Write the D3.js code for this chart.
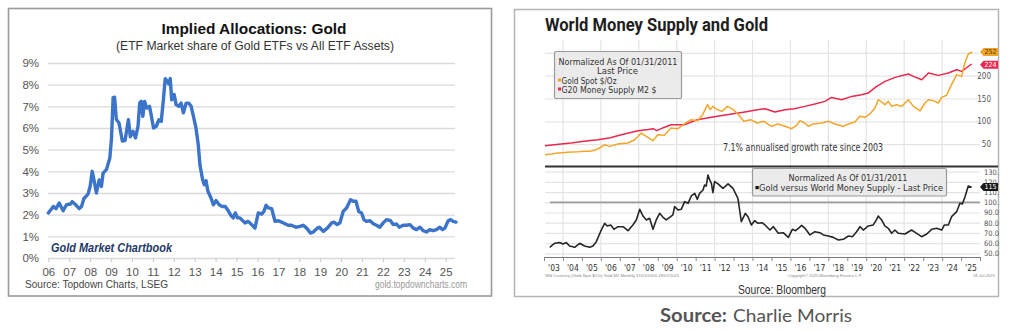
<!DOCTYPE html>
<html><head><meta charset="utf-8">
<script src="https://cdn.jsdelivr.net/npm/d3@7"></script>
<style>body{margin:0;background:#fff}svg{display:block}</style>
</head><body>
<svg id="c" width="1009" height="331"></svg>
<script>
// ---------- DATA ----------
// Left chart: Gold ETF share of all ETF assets (%), [year, value]
const allocShare = [
[2006.0,2.08],[2006.24,2.38],[2006.37,2.28],[2006.52,2.54],[2006.71,2.18],[2006.87,2.46],[2007.06,2.49],[2007.14,2.6],[2007.27,2.49],[2007.48,2.28],[2007.59,2.38],[2007.7,2.74],[2007.9,2.95],[2008.0,3.3],[2008.1,4.0],[2008.19,3.57],[2008.3,3.0],[2008.43,3.6],[2008.54,3.3],[2008.62,3.92],[2008.78,4.08],[2008.94,4.6],[2009.02,5.5],[2009.1,7.4],[2009.17,7.42],[2009.25,6.4],[2009.38,6.23],[2009.54,5.4],[2009.67,5.42],[2009.83,6.38],[2009.92,5.6],[2010.05,5.85],[2010.17,5.54],[2010.29,6.08],[2010.37,7.15],[2010.44,7.23],[2010.52,6.54],[2010.6,7.23],[2010.71,6.92],[2010.84,7.0],[2010.92,6.6],[2011.03,6.0],[2011.16,6.08],[2011.29,6.38],[2011.4,6.3],[2011.51,7.38],[2011.59,8.28],[2011.68,8.18],[2011.76,8.03],[2011.83,8.28],[2011.9,7.3],[2012.02,7.54],[2012.11,7.08],[2012.24,7.0],[2012.35,7.15],[2012.46,6.7],[2012.59,7.15],[2012.71,7.15],[2012.83,7.0],[2012.94,6.54],[2013.06,6.0],[2013.17,5.23],[2013.25,4.3],[2013.38,3.6],[2013.46,3.38],[2013.54,3.57],[2013.63,3.08],[2013.78,2.77],[2013.89,2.46],[2014.02,2.65],[2014.17,2.46],[2014.3,2.38],[2014.46,2.38],[2014.57,2.23],[2014.73,1.97],[2014.84,1.85],[2014.94,2.08],[2015.05,1.85],
[2015.16,1.85],[2015.4,1.62],[2015.56,1.69],[2015.72,1.54],[2015.88,1.38],[2016.04,2.08],[2016.2,2.03],[2016.31,2.15],[2016.41,2.43],[2016.52,2.31],[2016.68,2.28],[2016.84,1.69],[2017.0,1.72],[2017.24,1.62],[2017.47,1.51],[2017.63,1.51],[2017.84,1.42],[2018.03,1.46],[2018.19,1.51],[2018.35,1.38],[2018.54,1.15],[2018.67,1.2],[2018.86,1.38],[2018.96,1.42],[2019.15,1.23],[2019.34,1.38],[2019.55,1.62],[2019.67,1.65],[2019.81,1.54],[2019.94,1.62],[2020.1,2.15],[2020.26,2.31],[2020.45,2.69],[2020.58,2.62],[2020.71,2.62],[2020.84,2.15],[2020.98,2.08],[2021.09,1.77],[2021.21,1.69],[2021.38,1.72],[2021.54,1.58],[2021.69,1.51],[2021.85,1.42],[2022.01,1.62],[2022.17,1.77],[2022.36,1.72],[2022.49,1.54],[2022.65,1.57],[2022.78,1.42],[2022.97,1.51],[2023.13,1.51],[2023.29,1.54],[2023.45,1.38],[2023.61,1.31],[2023.77,1.42],[2023.92,1.26],[2024.08,1.2],[2024.24,1.31],[2024.4,1.26],[2024.56,1.31],[2024.72,1.42],[2024.85,1.31],[2024.96,1.38],[2025.12,1.72],[2025.23,1.77],[2025.36,1.69],[2025.49,1.66]
];
const allocYTicks = [0,1,2,3,4,5,6,7,8,9];
const allocXTicks = [2006,2007,2008,2009,2010,2011,2012,2013,2014,2015,2016,2017,2018,2019,2020,2021,2022,2023,2024,2025];
const allocXLabels = ["06","07","08","09","10","11","12","13","14","15","16","17","18","19","20","21","22","23","24","25"];

// Right chart, upper panel: normalized (01/31/2011 = 100)
const goldSpot = [
[2003.05,26.8],[2003.4,28.5],[2003.74,30.5],[2004.1,31.5],[2004.44,32.7],[2004.8,33],[2005.14,34.1],[2005.4,34.5],[2005.67,36.3],[2005.95,42],[2006.2,48.7],[2006.45,45],[2006.9,50.2],[2007.43,52.4],[2007.78,59.6],[2008.13,74.3],[2008.48,64.8],[2008.75,57.4],[2009.0,70.6],[2009.35,69.2],[2009.7,85.3],[2010.06,83.8],[2010.4,94.1],[2010.76,103.5],[2011.1,101.4],[2011.37,114.5],[2011.63,136.4],[2011.77,125.5],[2011.9,132.7],[2012.14,125.5],[2012.4,121.9],[2012.67,132.7],[2013.0,125.5],[2013.28,113.1],[2013.54,100],[2013.9,103.5],[2014.25,96.3],[2014.6,100],[2015.0,89],[2015.35,94.1],[2015.71,89],[2016.06,83.8],[2016.33,91.2],[2016.5,101.4],[2016.76,96.3],[2016.94,89],[2017.2,94.1],[2017.64,96.3],[2018.0,100],[2018.35,94.1],[2018.79,89],[2019.05,94.1],[2019.4,98.5],[2019.66,111],[2019.93,108.8],[2020.19,116.1],[2020.46,129.2],[2020.63,147.4],[2020.81,142.3],[2020.99,136.4],[2021.16,143.7],[2021.34,132.7],[2021.6,136.4],[2021.87,132.7],[2022.22,147.4],[2022.49,132.7],[2022.84,123.1],[2023.1,140.1],[2023.28,147.4],[2023.54,145.2],[2023.8,140.1],[2023.98,152.5],[2024.24,157],[2024.5,180.4],[2024.77,202.3],[2025.03,198.5],[2025.2,227.9],[2025.38,247.6],[2025.58,252]
];
const g20M2 = [
[2003.05,46.5],[2003.3,47.4],[2003.9,50],[2004.44,52.4],[2005.1,56],[2005.85,59.6],[2006.5,64],[2007.08,70.6],[2007.96,79.4],[2008.5,82],[2008.75,83.8],[2008.95,79.4],[2009.3,86],[2009.7,92.5],[2010.4,92.5],[2010.8,99],[2011.1,103.5],[2011.9,109.4],[2012.9,116],[2013.6,120.4],[2014.1,124],[2014.66,127.6],[2015.18,120.4],[2015.71,125.5],[2016.2,127.6],[2016.76,132.7],[2017.29,137.8],[2017.82,143.7],[2018.17,152.4],[2018.7,147.3],[2019.23,154.6],[2019.75,158.3],[2020.1,161.9],[2020.55,176.5],[2020.99,187.5],[2021.52,196.3],[2022.22,203.6],[2022.49,198.5],[2022.93,191.2],[2023.28,205.8],[2023.8,200.7],[2024.33,205.8],[2024.77,213.1],[2025.03,209.5],[2025.56,225.6]
];
const upperTicks = [50,100,150,200,250];
const upperLast = {gold:252, m2:224};

// Right chart, lower panel: gold versus world money supply (normalized)
const goldVsM2 = [
[2003.3,55.9],[2003.39,57.2],[2003.56,59.8],[2003.83,60.5],[2004.0,59.2],[2004.18,60.5],[2004.35,57.2],[2004.62,55.9],[2004.88,59.8],[2005.14,57.2],[2005.41,55.9],[2005.58,57.2],[2005.76,61.4],[2006.02,72.8],[2006.2,79.4],[2006.34,76.8],[2006.52,77.8],[2006.69,73.5],[2006.9,76.1],[2007.17,76.1],[2007.43,72.2],[2007.69,77.8],[2007.87,82.7],[2008.05,93.1],[2008.22,86.6],[2008.4,82.7],[2008.57,84.3],[2008.75,73.5],[2008.92,82.7],[2009.1,89.2],[2009.28,85.3],[2009.45,82.7],[2009.63,85.3],[2009.8,87.6],[2009.89,95.8],[2010.07,92.5],[2010.24,93.1],[2010.42,100.6],[2010.6,99],[2010.77,106.2],[2010.95,108.8],[2011.09,102.9],[2011.21,108.8],[2011.39,112.1],[2011.47,117],[2011.56,116],[2011.65,126.8],[2011.74,121.9],[2011.83,118.6],[2011.91,109.5],[2012.0,120.3],[2012.18,118],[2012.44,113.7],[2012.71,118],[2012.97,113.7],[2013.23,103.9],[2013.41,81],[2013.62,89.2],[2013.76,85.9],[2013.94,77.8],[2014.11,82],[2014.29,79.4],[2014.5,80],
[2014.66,77.8],[2014.92,72.8],[2015.1,76.1],[2015.36,69.6],[2015.62,70.2],[2015.89,65.6],[2016.1,73.5],[2016.27,72.2],[2016.42,74.5],[2016.59,77.4],[2016.77,74.5],[2017.03,68],[2017.29,71.2],[2017.56,70.2],[2017.73,68],[2018.0,67],[2018.26,65.6],[2018.53,63],[2018.79,63.7],[2019.06,67],[2019.27,66.3],[2019.49,71.2],[2019.67,76.1],[2019.84,72.8],[2020.11,76.8],[2020.37,77.8],[2020.55,83.3],[2020.63,86.6],[2020.81,82.7],[2020.98,76.8],[2021.16,74.5],[2021.34,69.6],[2021.51,72.8],[2021.69,69.6],[2022.04,68.9],[2022.39,72.8],[2022.66,69.6],[2022.92,66.3],[2023.19,68.9],[2023.45,73.5],[2023.71,74.5],[2023.98,72.8],[2024.12,77.8],[2024.33,77.8],[2024.5,85.9],[2024.77,90.8],[2024.94,99],[2025.07,98.3],[2025.21,105.5],[2025.38,116],[2025.56,114.7]
];
const lowerTicks = [50,60,70,80,90,100,110,120,130];
const lowerLast = 115;
const rightYears = d3.range(2003, 2026);

// ---------- DRAW ----------
const svg = d3.select("#c");
const LS = "'Liberation Sans', Arial, sans-serif";
const CND = "'DejaVu Sans Condensed','Liberation Sans Narrow','Liberation Sans',sans-serif";

// ===== LEFT PANEL =====
svg.append("rect").attr("x",8.5).attr("y",8.5).attr("width",483).attr("height",287.5)
  .attr("fill","#fff").attr("stroke","#9a9a9a").attr("stroke-width",1.6);

svg.append("text").attr("x",254).attr("y",34).attr("text-anchor","middle")
  .attr("font-family",LS).attr("font-weight","bold").attr("font-size",15.5).attr("fill","#111")
  .attr("textLength",185).attr("lengthAdjust","spacingAndGlyphs")
  .text("Implied Allocations: Gold");
svg.append("text").attr("x",255).attr("y",50).attr("text-anchor","middle")
  .attr("font-family",LS).attr("font-size",12).attr("fill","#333")
  .attr("textLength",278).attr("lengthAdjust","spacingAndGlyphs")
  .text("(ETF Market share of Gold ETFs vs All ETF Assets)");

const xL = d3.scaleLinear().domain([2006,2025]).range([48.3,445.7]);
const yL = d3.scaleLinear().domain([0,9]).range([258,63]);

const gyL = svg.append("g").attr("transform","translate(48,0)")
  .call(d3.axisLeft(yL).tickValues(allocYTicks).tickSize(-407).tickPadding(9).tickFormat(d=>d+"%"));
gyL.select(".domain").remove();
gyL.selectAll("line").attr("stroke","#dadada").attr("stroke-width",1.4);
gyL.selectAll("text").attr("font-family",LS).attr("font-size",11.5).attr("fill","#555");

const gxL = svg.append("g").attr("transform","translate(0,258)")
  .call(d3.axisBottom(xL).tickValues(allocXTicks).tickSize(4).tickPadding(6)
    .tickFormat((d,i)=>allocXLabels[i]));
gxL.select(".domain").remove();
gxL.selectAll("line").attr("stroke","#cfcfcf").attr("stroke-width",1.2);
gxL.selectAll("text").attr("font-family",LS).attr("font-size",11.5).attr("fill","#555");

svg.append("path").datum(allocShare)
  .attr("d", d3.line().x(d=>xL(d[0])).y(d=>yL(d[1])))
  .attr("fill","none").attr("stroke","#3b74c8").attr("stroke-width",3.4)
  .attr("stroke-linejoin","round").attr("stroke-linecap","round");

svg.append("text").attr("x",51).attr("y",252)
  .attr("font-family",LS).attr("font-style","italic").attr("font-weight","bold")
  .attr("font-size",12.5).attr("fill","#1f3a68")
  .attr("textLength",121).attr("lengthAdjust","spacingAndGlyphs")
  .text("Gold Market Chartbook");

svg.append("text").attr("x",25).attr("y",288)
  .attr("font-family",LS).attr("font-size",11).attr("fill","#444")
  .attr("textLength",143).attr("lengthAdjust","spacingAndGlyphs")
  .text("Source: Topdown Charts, LSEG");
svg.append("text").attr("x",467).attr("y",288).attr("text-anchor","end")
  .attr("font-family",LS).attr("font-size",10.5).attr("fill","#9a9a9a")
  .attr("textLength",92).attr("lengthAdjust","spacingAndGlyphs")
  .text("gold.topdowncharts.com");

// ===== RIGHT PANEL =====
svg.append("rect").attr("x",514.5).attr("y",9.5).attr("width",484).attr("height",287)
  .attr("fill","#fff").attr("stroke","#b5b5b5").attr("stroke-width",1.5);

svg.append("text").attr("x",545).attr("y",31)
  .attr("font-family","Roboto, 'Liberation Sans', sans-serif").attr("font-weight","bold")
  .attr("font-size",18).attr("fill","#1e1e1e")
  .attr("textLength",223).attr("lengthAdjust","spacingAndGlyphs")
  .text("World Money Supply and Gold");

const xR = d3.scaleLinear().domain([2003,2026]).range([544,980]);
const yU = d3.scaleLinear().domain([0,280]).range([166.9,39.2]);
const yLo = d3.scaleLinear().domain([50,130]).range([253.3,171.7]);

// vertical grid (every 2 years)
svg.append("g").selectAll("line").data(d3.range(2004,2026,2)).join("line")
  .attr("x1",d=>xR(d)).attr("x2",d=>xR(d)).attr("y1",40).attr("y2",257)
  .attr("stroke","#e4e4e4").attr("stroke-width",1.2);

// upper horizontal grid + labels
const gU = svg.append("g").attr("transform","translate(980,0)")
  .call(d3.axisRight(yU).tickValues(upperTicks).tickSize(-435).tickPadding(11)
    .tickFormat(d=> d===250 ? "" : d));
gU.select(".domain").remove();
gU.selectAll("line").attr("stroke","#e4e4e4").attr("stroke-width",1.2);
gU.selectAll("text").attr("text-anchor","end").attr("font-family",CND).attr("font-size",8).attr("fill","#555");

// lower horizontal grid + labels
const gLo = svg.append("g").attr("transform","translate(980,0)")
  .call(d3.axisRight(yLo).tickValues(lowerTicks).tickSize(-435).tickPadding(4)
    .tickFormat(d=> d>=100 ? d+"." : d+".0"));
gLo.select(".domain").remove();
gLo.selectAll("line").attr("stroke","#e4e4e4").attr("stroke-width",1.2);
gLo.selectAll("text").attr("font-family",CND).attr("font-size",7.5).attr("fill","#555");

// 100 reference line in lower panel
svg.append("line").attr("x1",550).attr("x2",980).attr("y1",yLo(100)).attr("y2",yLo(100))
  .attr("stroke","#9c9c9c").attr("stroke-width",1.8);

// panel divider
svg.append("line").attr("x1",545).attr("x2",998).attr("y1",166.5).attr("y2",166.5)
  .attr("stroke","#333").attr("stroke-width",2);

// bottom axis
const gxR = svg.append("g").attr("transform","translate(0,257)")
  .call(d3.axisBottom(xR).tickValues(d3.range(2003,2027)).tickSize(4).tickFormat(""));
gxR.select(".domain").attr("stroke","#777").attr("stroke-width",1);
gxR.selectAll("line").attr("stroke","#888");
const gxR2 = svg.append("g").attr("transform","translate(0,257)")
  .call(d3.axisBottom(xR).tickValues(rightYears.map(y=>y+0.5)).tickSize(0).tickPadding(8)
    .tickFormat(d=>"'"+String(Math.floor(d)).slice(2)));
gxR2.select(".domain").remove();
gxR2.selectAll("text").attr("font-family",CND).attr("font-size",8.5).attr("fill","#333");

// lines
const lineU = d3.line().x(d=>xR(d[0])).y(d=>yU(d[1]));
svg.append("path").datum(g20M2).attr("d",lineU).attr("fill","none")
  .attr("stroke","#e8294f").attr("stroke-width",1.5).attr("stroke-linejoin","round");
svg.append("path").datum(goldSpot).attr("d",lineU).attr("fill","none")
  .attr("stroke","#f4a62a").attr("stroke-width",1.5).attr("stroke-linejoin","round");
svg.append("path").datum(goldVsM2)
  .attr("d",d3.line().x(d=>xR(d[0])).y(d=>yLo(d[1]))).attr("fill","none")
  .attr("stroke","#262626").attr("stroke-width",1.6).attr("stroke-linejoin","round");

// value tags
function tag(y, txt, fill, tc){
  svg.append("path").attr("d",`M980,${y} L983.5,${y-4} L998,${y-4} L998,${y+4} L983.5,${y+4} Z`)
    .attr("fill",fill);
  svg.append("text").attr("x",990.5).attr("y",y+2.4).attr("text-anchor","middle")
    .attr("font-family",CND).attr("font-size",7).attr("fill",tc).text(txt);
}
tag(yU(upperLast.gold), upperLast.gold, "#f2a427", "#5a3a00");
tag(yU(upperLast.m2), upperLast.m2, "#e8294f", "#fff");
tag(yLo(lowerLast), lowerLast, "#1a1a1a", "#fff");

// upper legend
svg.append("rect").attr("x",554.5).attr("y",51.5).attr("width",127).attr("height",47)
  .attr("fill","#e9e9e9").attr("fill-opacity",0.93).attr("stroke","#9a9a9a").attr("stroke-width",1.2).attr("rx",1.5);
const legTxt = (x,y,t,anchor,len,size)=>svg.append("text").attr("x",x).attr("y",y)
  .attr("text-anchor",anchor).attr("font-family",CND).attr("font-size",size||10).attr("fill","#333")
  .attr("textLength",len).attr("lengthAdjust","spacingAndGlyphs").text(t);
legTxt(618,64.5,"Normalized As Of 01/31/2011","middle",119,9.5);
legTxt(617.5,73.5,"Last Price","middle",41,9.5);
svg.append("rect").attr("x",558).attr("y",78.5).attr("width",3).attr("height",3).attr("fill","#f2a427");
legTxt(561.5,83.5,"Gold Spot $/Oz","start",55,9.5);
svg.append("rect").attr("x",558).attr("y",87.5).attr("width",3).attr("height",3).attr("fill","#e8294f");
legTxt(561.5,92.5,"G20 Money Supply M2 $","start",95,9.5);

legTxt(803,151,"7.1% annualised growth rate since 2003","middle",160,11);

// lower legend
svg.append("rect").attr("x",752.5).attr("y",168.5).attr("width",194).attr("height",27.5)
  .attr("fill","#e9e9e9").attr("fill-opacity",0.93).attr("stroke","#9a9a9a").attr("stroke-width",1.2).attr("rx",1.5);
legTxt(848,180.5,"Normalized As Of 01/31/2011","middle",119,9.5);
svg.append("rect").attr("x",755.5).attr("y",186).attr("width",3.2).attr("height",3.2).attr("fill","#111");
legTxt(759,191,"Gold versus World Money Supply - Last Price","start",184,9.5);

// footnotes
const tiny = (x,y,t,anchor,len)=>svg.append("text").attr("x",x).attr("y",y).attr("text-anchor",anchor)
  .attr("font-family",LS).attr("font-size",4).attr("fill","#888")
  .attr("textLength",len).attr("lengthAdjust","spacingAndGlyphs").text(t);
tiny(545,277,"Wld Currency (Gold Spot   $/Oz)  Gold M2   Monthly 31/01/2003-18/07/2025","start",134);
tiny(788,277,"Copyright© 2025 Bloomberg Finance L.P.","start",74);
tiny(995,277,"18-Jul-2025","end",22);

svg.append("text").attr("x",782).attr("y",294).attr("text-anchor","middle")
  .attr("font-family",LS).attr("font-size",12).attr("fill","#333")
  .attr("textLength",88).attr("lengthAdjust","spacingAndGlyphs").text("Source: Bloomberg");

// outside caption
svg.append("text").attr("x",660).attr("y",322)
  .attr("font-family","Lato, 'Open Sans', sans-serif").attr("font-weight","bold").attr("font-size",18).attr("fill","#555")
  .attr("textLength",67).attr("lengthAdjust","spacingAndGlyphs").text("Source:");
svg.append("text").attr("x",733).attr("y",322)
  .attr("font-family","Lato, 'Open Sans', sans-serif").attr("font-size",18).attr("fill","#555")
  .attr("textLength",119).attr("lengthAdjust","spacingAndGlyphs").text("Charlie Morris");
</script>
</body></html>
